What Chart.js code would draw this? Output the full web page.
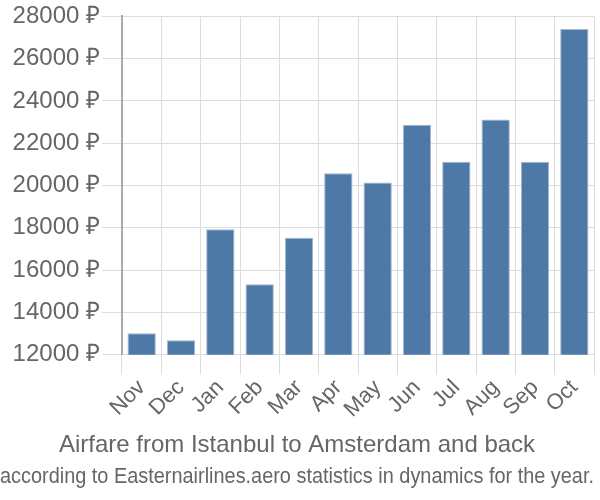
<!DOCTYPE html>
<html>
<head>
<meta charset="utf-8">
<script src="https://cdn.jsdelivr.net/npm/chart.js@4/dist/chart.umd.min.js"></script>
<style>
  html, body { margin: 0; padding: 0; background: #fff; }
</style>
</head>
<body>
<canvas id="myChart" width="600" height="500"></canvas>
<script>
// months and average fares (rub)
var months = ["Nov", "Dec", "Jan", "Feb", "Mar", "Apr", "May", "Jun", "Jul", "Aug", "Sep", "Oct"];
var prices = [13020, 12690, 17940, 15330, 17530, 20580, 20150, 22880, 21130, 23120, 21130, 27400];
var yMin = 12000;
var yMax = 28000;
var yStep = 2000;

Chart.defaults.font.family = "'Liberation Sans', Arial, sans-serif";
Chart.defaults.color = '#666';

var ctx = document.getElementById("myChart");
var myChart = new Chart(ctx, {
    type: 'bar',
    data: {
        labels: months,
        datasets: [{
            data: prices,
            backgroundColor: '#4e78a6',
            borderColor: '#a3b7cf',
            borderWidth: 1,
            barPercentage: 0.8,
            categoryPercentage: 0.9
        }]
    },
    options: {
        responsive: false,
        animation: false,
        layout: {
            padding: { top: 5, right: 6, left: 0, bottom: 4 }
        },
        plugins: {
            legend: { display: false },
            tooltip: { enabled: false },
            // 標題放在下方
            title: {
                display: true,
                position: 'bottom',
                weight: 1,
                text: 'Airfare from Istanbul to Amsterdam and back',
                color: '#666',
                font: { size: 24, weight: 'normal' },
                padding: { top: 8, bottom: 2 }
            },
            subtitle: {
                display: true,
                position: 'bottom',
                weight: 2,
                text: 'according to Easternairlines.aero statistics in dynamics for the year.',
                color: '#666',
                font: { size: 22, weight: 'normal' },
                padding: { top: 2, bottom: 6 }
            }
        },
        scales: {
            x: {
                grid: {
                    color: '#dddddd',
                    lineWidth: 1,
                    tickLength: 20
                },
                border: { color: '#dddddd' },
                ticks: {
                    font: { size: 22 },
                    color: '#666',
                    autoSkip: false,
                    maxRotation: 45,
                    minRotation: 45,
                    padding: 0
                }
            },
            y: {
                min: yMin,
                max: yMax,
                grid: {
                    color: '#dddddd',
                    lineWidth: 1,
                    tickLength: 20
                },
                border: { color: '#aaaaaa', width: 2 },
                ticks: {
                    stepSize: yStep,
                    font: { size: 24 },
                    color: '#666',
                    padding: 2,
                    callback: function(v) { return v + ' ₽'; }
                },
                // 固定左軸寬度
                afterFit: function(scale) { scale.width = 122; }
            }
        }
    }
});
</script>
</body>
</html>
